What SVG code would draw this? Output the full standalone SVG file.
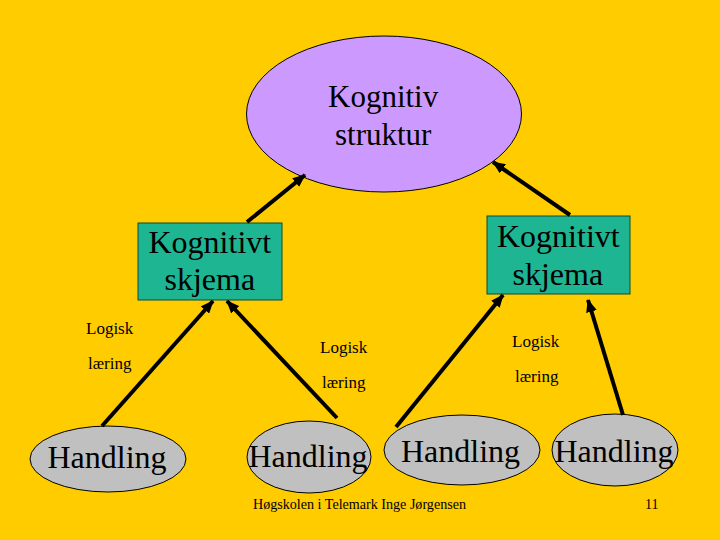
<svg xmlns="http://www.w3.org/2000/svg" width="720" height="540" viewBox="0 0 720 540">
<defs>
<marker id="ah" markerUnits="userSpaceOnUse" markerWidth="13" markerHeight="11" refX="12" refY="5.5" orient="auto">
<path d="M0,0 L13,5.5 L0,11 z" fill="#000"/>
</marker>
<style>
.box{fill:#1DB592;stroke:#0A4A3A;stroke-width:1;}
.hand{fill:#C0C0C0;stroke:#000;stroke-width:1;}
.con line{stroke:#000;stroke-width:4;marker-end:url(#ah);}
</style>
</defs>
<rect x="0" y="0" width="720" height="540" fill="#FFCC00"/>
<g id="kognitiv-struktur">
<ellipse cx="384" cy="114" rx="137.5" ry="78" fill="#CC99FF" stroke="#000" stroke-width="1"/>
<text x="328" y="107" font-family="Liberation Serif" font-size="31">Kognitiv</text>
<text x="335" y="145" font-family="Liberation Serif" font-size="31">struktur</text>
</g>
<g id="skjema-left">
<rect class="box" x="138" y="223" width="144" height="77"/>
<text x="148.5" y="253" font-family="Liberation Serif" font-size="32">Kognitivt</text>
<text x="164.5" y="290" font-family="Liberation Serif" font-size="32">skjema</text>
</g>
<g id="skjema-right">
<rect class="box" x="487" y="216" width="143" height="78"/>
<text x="497" y="247" font-family="Liberation Serif" font-size="32">Kognitivt</text>
<text x="512.5" y="285" font-family="Liberation Serif" font-size="32">skjema</text>
</g>
<g id="handling-1">
<ellipse class="hand" cx="108" cy="459" rx="78" ry="33"/>
<text x="47.5" y="468" font-family="Liberation Serif" font-size="32">Handling</text>
</g>
<g id="handling-2">
<ellipse class="hand" cx="309" cy="457" rx="62" ry="36"/>
<text x="248.5" y="467" font-family="Liberation Serif" font-size="32">Handling</text>
</g>
<g id="handling-3">
<ellipse class="hand" cx="462" cy="450" rx="78" ry="35"/>
<text x="401" y="462" font-family="Liberation Serif" font-size="32">Handling</text>
</g>
<g id="handling-4">
<ellipse class="hand" cx="615" cy="450" rx="63" ry="36"/>
<text x="554.5" y="462" font-family="Liberation Serif" font-size="32">Handling</text>
</g>
<g id="connectors" class="con">
<line x1="247" y1="222" x2="305" y2="175"/>
<line x1="570" y1="215" x2="493" y2="162"/>
<line x1="102" y1="426" x2="213" y2="301"/>
<line x1="337" y1="418" x2="227" y2="301"/>
<line x1="396" y1="427" x2="503" y2="295"/>
<line x1="623" y1="415" x2="588" y2="300"/>
</g>
<g id="labels" font-family="Liberation Serif" font-size="17">
<text x="86" y="334">Logisk</text>
<text x="88" y="369">læring</text>
<text x="320" y="353">Logisk</text>
<text x="322" y="388">læring</text>
<text x="512" y="347">Logisk</text>
<text x="515" y="382">læring</text>
</g>
<g id="footer" font-family="Liberation Serif" font-size="14">
<text x="253" y="509" textLength="213" lengthAdjust="spacingAndGlyphs">Høgskolen i Telemark Inge Jørgensen</text>
<text x="645" y="509">11</text>
</g>
</svg>
